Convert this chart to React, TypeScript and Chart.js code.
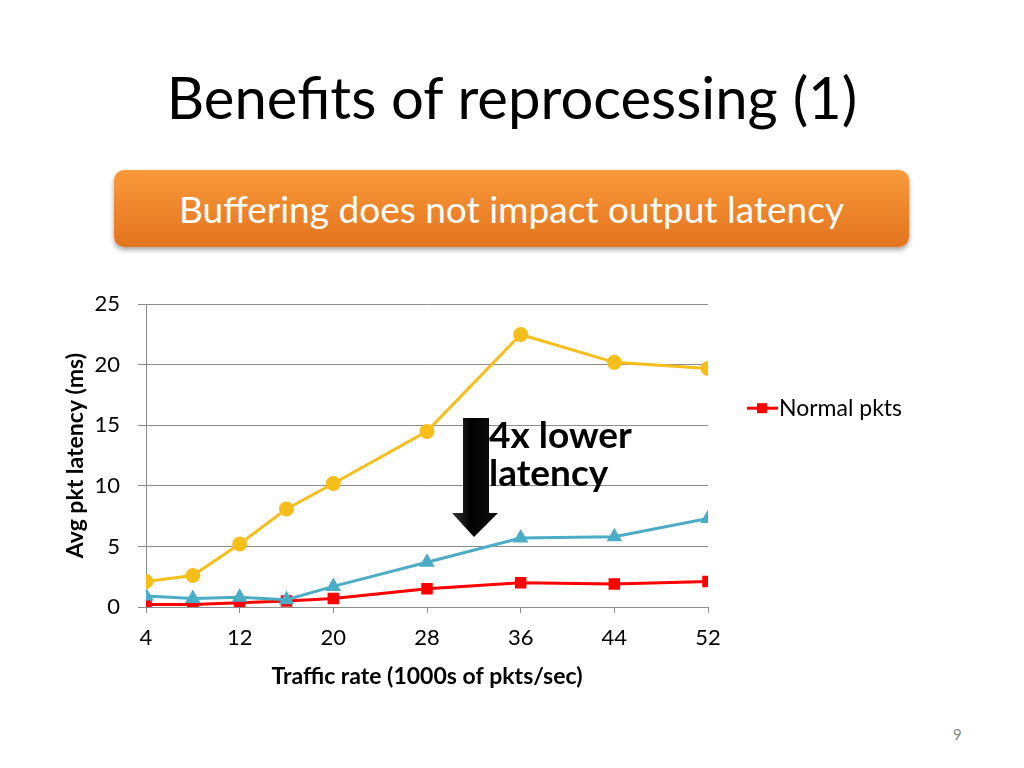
import React, { useEffect, useRef } from "react";
import { Chart, registerables } from "chart.js";

Chart.register(...registerables);

const trafficRates = [4, 8, 12, 16, 20, 28, 36, 44, 52];
const xTickValues = [4, 12, 20, 28, 36, 44, 52];
const normalPkts = [0.2, 0.2, 0.35, 0.5, 0.7, 1.5, 2.0, 1.9, 2.1];
const reprocessedPkts = [0.9, 0.7, 0.8, 0.6, 1.7, 3.7, 5.7, 5.8, 7.3];
const bufferedPkts = [2.1, 2.6, 5.2, 8.1, 10.2, 14.5, 22.5, 20.2, 19.7];
const seriesNames = ["Normal pkts", "Reprocessed pkts", "Buffered pkts"];

const FONT = "Lato, 'Open Sans', sans-serif";

const legendPlugin = {
  id: "singleLegend",
  afterDraw(chart: any) {
    const ctx = chart.ctx;
    const ds = chart.data.datasets[0];
    const { right, top } = chart.chartArea;
    const x0 = right + 39;
    const y0 = top + 104;
    ctx.save();
    ctx.strokeStyle = ds.borderColor;
    ctx.lineWidth = 3;
    ctx.beginPath();
    ctx.moveTo(x0, y0);
    ctx.lineTo(x0 + 31, y0);
    ctx.stroke();
    ctx.fillStyle = ds.backgroundColor;
    ctx.fillRect(x0 + 10, y0 - 5, 10, 10);
    ctx.fillStyle = "#000";
    ctx.font = `23px ${FONT}`;
    ctx.textBaseline = "middle";
    ctx.fillText(ds.label, x0 + 32, y0);
    ctx.restore();
  },
};

function LatencyChart() {
  const ref = useRef<HTMLCanvasElement | null>(null);
  useEffect(() => {
    if (!ref.current) return;
    const toPoints = (arr: number[]) => trafficRates.map((x, i) => ({ x, y: arr[i] }));
    const chart = new Chart(ref.current, {
      type: "line",
      data: {
        datasets: [
          {
            label: seriesNames[0],
            data: toPoints(normalPkts),
            borderColor: "#FF0000",
            backgroundColor: "#FF0000",
            borderWidth: 3,
            pointStyle: "rect",
            pointRadius: 6,
            pointHoverRadius: 6,
            order: 3,
          },
          {
            label: seriesNames[1],
            data: toPoints(reprocessedPkts),
            borderColor: "#4BACC6",
            backgroundColor: "#4BACC6",
            borderWidth: 3,
            pointStyle: "triangle",
            pointRadius: 6,
            pointHoverRadius: 6,
            order: 2,
          },
          {
            label: seriesNames[2],
            data: toPoints(bufferedPkts),
            borderColor: "#F6BE1A",
            backgroundColor: "#F6BE1A",
            borderWidth: 3,
            pointStyle: "circle",
            pointRadius: 6,
            pointHoverRadius: 6,
            order: 1,
          },
        ],
      },
      options: {
        animation: false,
        responsive: false,
        layout: { padding: { top: 10, right: 252, left: 0, bottom: 0 } },
        plugins: { legend: { display: false }, tooltip: { enabled: false } },
        scales: {
          x: {
            type: "linear",
            min: 4,
            max: 52,
            afterBuildTicks: (scale: any) => {
              scale.ticks = xTickValues.map((v) => ({ value: v }));
            },
            afterFit: (scale: any) => {
              scale.height = 97;
            },
            border: { display: true, color: "#8C8C8C", width: 1 },
            grid: { drawOnChartArea: false, drawTicks: true, tickLength: 6, color: "#8C8C8C" },
            ticks: { color: "#000", font: { family: FONT, size: 22 }, padding: 12, maxRotation: 0 },
            title: {
              display: true,
              text: "Traffic rate (1000s of pkts/sec)",
              color: "#000",
              font: { family: FONT, size: 23, weight: "bold" },
              padding: { top: 4, bottom: 14 },
            },
          },
          y: {
            min: 0,
            max: 25,
            ticks: { stepSize: 5, color: "#000", font: { family: FONT, size: 22 }, padding: 18 },
            afterFit: (scale: any) => {
              scale.width = 86;
            },
            border: { display: true, color: "#8C8C8C", width: 1 },
            grid: { color: "#8C8C8C", tickLength: 8 },
            title: {
              display: true,
              text: "Avg pkt latency (ms)",
              color: "#000",
              font: { family: FONT, size: 23, weight: "bold" },
              padding: { top: 2, bottom: 4 },
            },
          },
        },
      },
      plugins: [legendPlugin],
    } as any);
    return () => chart.destroy();
  }, []);
  return <canvas ref={ref} width={900} height={431} style={{ position: "absolute", left: 60, top: 273, width: 900, height: 431 }} />;
}

export default function App() {
  return (
    <div style={{ position: "absolute", left: 0, top: 0, width: 1024, height: 768, background: "#fff", overflow: "hidden", fontFamily: FONT }}>
      <div style={{ position: "absolute", left: 0, top: 62, width: 1024, textAlign: "center", fontSize: 58, lineHeight: "70px", color: "#000" }}>
        Benefits of reprocessing (1)
      </div>
      <div
        style={{
          position: "absolute",
          left: 114,
          top: 170,
          width: 795,
          height: 77,
          borderRadius: 10,
          background: "linear-gradient(#F9993A, #E3741E)",
          boxShadow: "0 3px 5px rgba(0,0,0,0.35)",
          color: "#fff",
          fontSize: 37,
          lineHeight: "77px",
          textAlign: "center",
        }}
      >
        Buffering does not impact output latency
      </div>
      <LatencyChart />
      <svg style={{ position: "absolute", left: 448, top: 414, width: 56, height: 128 }} width={56} height={128}>
        <defs>
          <linearGradient id="ag" x1="0" x2="1" y1="0" y2="0">
            <stop offset="0" stopColor="#3a3a3a" />
            <stop offset="0.4" stopColor="#000" />
            <stop offset="1" stopColor="#111" />
          </linearGradient>
        </defs>
        <polygon points="15,4 41,4 41,99 50,99 26,123 4,99 15,99" fill="url(#ag)" />
      </svg>
      <div style={{ position: "absolute", left: 489, top: 415, fontSize: 37, fontWeight: 700, lineHeight: "38px", color: "#000" }}>
        4x lower
        <br />
        latency
      </div>
      <div style={{ position: "absolute", left: 953, top: 725, fontSize: 15, color: "#888" }}>9</div>
    </div>
  );
}
